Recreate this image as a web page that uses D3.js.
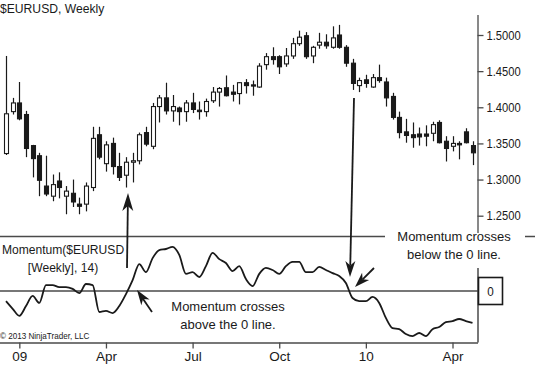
<!DOCTYPE html>
<html><head><meta charset="utf-8">
<script src="https://cdn.jsdelivr.net/npm/d3@7"></script>
<style>
html,body{margin:0;padding:0;background:#fff;}
svg{display:block;}
text{font-family:"Liberation Sans Narrow","Arial Narrow","Liberation Sans",Arial,sans-serif;fill:#1a1a1a;}
</style></head><body>
<svg id="c" width="535" height="365"></svg>
<script>
// ---- data (weekly $EURUSD, Dec 2008 – Apr 2010) ----
const opens  = [1.336,1.394,1.406,1.390,1.347,1.333,1.291,1.277,1.298,1.277,1.281,1.266,1.266,1.289,1.362,1.322,1.350,1.318,1.306,1.324,1.326,1.365,1.346,1.401,1.413,1.395,1.399,1.394,1.406,1.396,1.394,1.409,1.421,1.427,1.421,1.419,1.434,1.431,1.428,1.459,1.470,1.470,1.460,1.471,1.488,1.499,1.471,1.486,1.490,1.483,1.500,1.483,1.461,1.430,1.438,1.428,1.441,1.435,1.415,1.386,1.366,1.362,1.363,1.363,1.364,1.379,1.353,1.346,1.350,1.366,1.347];
const highs  = [1.471,1.413,1.435,1.395,1.348,1.337,1.333,1.307,1.310,1.291,1.300,1.275,1.296,1.373,1.373,1.353,1.358,1.337,1.331,1.337,1.365,1.373,1.406,1.417,1.434,1.417,1.401,1.410,1.420,1.408,1.412,1.428,1.428,1.444,1.431,1.435,1.439,1.437,1.461,1.475,1.483,1.472,1.482,1.496,1.506,1.504,1.485,1.503,1.501,1.512,1.514,1.486,1.467,1.441,1.445,1.446,1.459,1.441,1.420,1.394,1.384,1.379,1.372,1.375,1.380,1.382,1.360,1.360,1.353,1.371,1.353];
const lows   = [1.334,1.390,1.382,1.331,1.303,1.277,1.277,1.270,1.274,1.252,1.262,1.252,1.256,1.284,1.328,1.311,1.307,1.298,1.289,1.296,1.321,1.346,1.342,1.379,1.390,1.380,1.375,1.380,1.392,1.383,1.387,1.406,1.401,1.415,1.408,1.404,1.419,1.416,1.427,1.452,1.459,1.446,1.456,1.467,1.485,1.467,1.461,1.481,1.481,1.481,1.481,1.456,1.424,1.421,1.427,1.427,1.434,1.401,1.383,1.357,1.351,1.344,1.347,1.346,1.353,1.350,1.325,1.339,1.328,1.350,1.320];
const closes = [1.391,1.406,1.384,1.343,1.329,1.299,1.280,1.293,1.289,1.284,1.269,1.263,1.291,1.357,1.331,1.348,1.318,1.303,1.324,1.326,1.362,1.349,1.401,1.413,1.395,1.401,1.394,1.406,1.397,1.394,1.408,1.421,1.426,1.416,1.418,1.434,1.430,1.430,1.457,1.470,1.466,1.456,1.471,1.488,1.497,1.470,1.483,1.490,1.485,1.496,1.483,1.461,1.433,1.437,1.433,1.441,1.437,1.413,1.386,1.365,1.361,1.358,1.359,1.360,1.376,1.351,1.343,1.350,1.348,1.351,1.337];
const momentum = [-0.029,-0.051,-0.071,-0.043,-0.014,-0.034,0.017,0.017,0.011,0.011,0.006,-0.006,0.020,0.017,-0.060,-0.057,-0.063,-0.043,-0.009,0.031,0.077,0.054,0.094,0.117,0.120,0.126,0.103,0.049,0.054,0.040,0.071,0.109,0.091,0.080,0.057,0.071,0.034,0.014,0.049,0.066,0.060,0.049,0.071,0.083,0.083,0.054,0.054,0.069,0.060,0.051,0.043,0.023,-0.020,-0.029,-0.029,-0.017,-0.034,-0.077,-0.106,-0.109,-0.123,-0.129,-0.120,-0.129,-0.109,-0.103,-0.089,-0.086,-0.080,-0.086,-0.091];
const priceTicks = [1.25,1.30,1.35,1.40,1.45,1.50];
const timeTickIdx = [2,15,28,41,54,67];
const timeTickLabels = ["09","Apr","Jul","Oct","10","Apr"];

const svg = d3.select("#c");
const n = closes.length;
const x = d3.scaleLinear().domain([0, n-1]).range([6, 472.5]);
const y = d3.scaleLinear().domain([1.25, 1.5]).range([215.7, 35]);
const ym = d3.scaleLinear().domain([-0.15, 0.15]).range([343.5, 238.5]);
const ink = "#1a1a1a", grey = "#4a4a4a";

// condensed text helper
function label(px, py, str, size, anchor, sx){
  const g = svg.append("g").attr("transform",`translate(${px},${py}) scale(${sx},1)`);
  return g.append("text").attr("x",0).attr("y",0).attr("font-size",size)
    .attr("text-anchor",anchor||"start").text(str);
}

// title
label(0, 13, "$EURUSD, Weekly", 13.5, "start", 0.9);

// price axis
const pa = svg.append("g").attr("transform","translate(477.5,0)")
  .call(d3.axisRight(y).tickValues(priceTicks).tickFormat(d3.format(".4f")).tickSize(6).tickPadding(3));
pa.select(".domain").attr("d","M0.5,15V233").attr("stroke",grey).attr("stroke-width",1.3);
pa.selectAll(".tick line").attr("stroke",grey).attr("stroke-width",1.3);
pa.selectAll(".tick text").attr("font-size",13).attr("fill",ink)
  .attr("font-family","Liberation Sans Narrow, Arial Narrow, Liberation Sans, Arial, sans-serif")
  .attr("x",0).attr("transform","translate(9,0) scale(0.86,1)");

// candles
const data = d3.range(n).map(i => ({i, o:opens[i], h:highs[i], l:lows[i], c:closes[i]}));
const cg = svg.append("g");
cg.selectAll("line.w").data(data).join("line")
  .attr("x1",d=>Math.round(x(d.i))+0.5).attr("x2",d=>Math.round(x(d.i))+0.5)
  .attr("y1",d=>y(d.h)).attr("y2",d=>y(d.l)).attr("stroke",ink).attr("stroke-width",1.2);
cg.selectAll("rect").data(data).join("rect")
  .attr("x",d=>Math.round(x(d.i))-1.5).attr("width",4)
  .attr("y",d=>y(Math.max(d.o,d.c)))
  .attr("height",d=>Math.max(1.2, Math.abs(y(d.o)-y(d.c))))
  .attr("fill",d=>d.c>=d.o?"#fff":ink).attr("stroke",ink).attr("stroke-width",1.1);

// separator line
svg.append("line").attr("x1",0).attr("x2",385).attr("y1",236.5).attr("y2",236.5).attr("stroke",grey).attr("stroke-width",1.5);
svg.append("line").attr("x1",525).attr("x2",535).attr("y1",236.5).attr("y2",236.5).attr("stroke",grey).attr("stroke-width",1.5);

// momentum panel
svg.append("line").attr("x1",0).attr("x2",478).attr("y1",ym(0)).attr("y2",ym(0)).attr("stroke",grey).attr("stroke-width",1.5);
svg.append("line").attr("x1",478).attr("x2",478).attr("y1",268).attr("y2",342.5).attr("stroke",grey).attr("stroke-width",1.5);
svg.append("rect").attr("x",478.5).attr("y",277.5).attr("width",24).attr("height",27).attr("fill","#fff").attr("stroke",ink).attr("stroke-width",1.6);
label(490.5, ym(0)+4.5, "0", 13, "middle", 0.9);

svg.append("path").datum(momentum)
  .attr("d", d3.line().x((d,i)=>x(i)).y(d=>ym(d)).curve(d3.curveMonotoneX))
  .attr("fill","none").attr("stroke",ink).attr("stroke-width",1.8).attr("stroke-linejoin","round");

// time axis
const ta = svg.append("g").attr("transform","translate(0,342.5)")
  .call(d3.axisBottom(x).tickValues(timeTickIdx).tickFormat((d,i)=>timeTickLabels[i]).tickSize(6).tickPadding(3));
ta.select(".domain").attr("d","M0,0.5H478").attr("stroke",grey).attr("stroke-width",1.5);
ta.selectAll(".tick line").attr("stroke",grey).attr("stroke-width",1.3);
ta.selectAll(".tick text").attr("font-size",13.5).attr("fill",ink)
  .attr("font-family","Liberation Sans Narrow, Arial Narrow, Liberation Sans, Arial, sans-serif");

// texts
label(0, 339, "© 2013 NinjaTrader, LLC", 9, "start", 0.9);
label(63, 254, "Momentum($EURUSD", 13, "middle", 0.93);
label(63, 272, "[Weekly], 14)", 13, "middle", 0.93);
label(228, 311, "Momentum crosses", 13, "middle", 1);
label(228, 329, "above the 0 line.", 13, "middle", 1);
label(454, 241, "Momentum crosses", 13, "middle", 1);
label(454, 259, "below the 0 line.", 13, "middle", 1);

// arrows
function arrow(x1,y1,x2,y2,len,hw){
  const dx=x2-x1, dy=y2-y1, L=Math.hypot(dx,dy), ux=dx/L, uy=dy/L, px=-uy, py=ux;
  const bx=x2-ux*len, by=y2-uy*len, nx=x2-ux*len*0.72, ny=y2-uy*len*0.72;
  svg.append("line").attr("x1",x1).attr("y1",y1).attr("x2",nx).attr("y2",ny).attr("stroke",ink).attr("stroke-width",1.8);
  svg.append("path").attr("d",`M${x2},${y2}L${bx+px*hw},${by+py*hw}L${nx},${ny}L${bx-px*hw},${by-py*hw}Z`).attr("fill",ink);
}
arrow(127,268,128,193,18,5.5);
arrow(152,312,137,290,15,5);
arrow(354,98,350,277,16,5);
arrow(374,268,355,287,15,5);
</script></body></html>
